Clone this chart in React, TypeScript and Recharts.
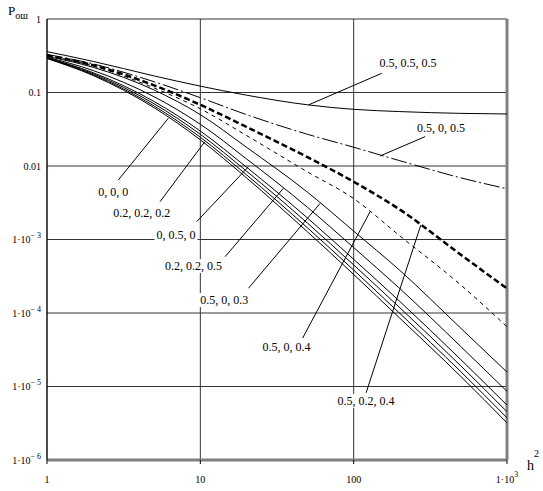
import React from "react";
import {
  LineChart,
  Line,
  XAxis,
  YAxis,
  CartesianGrid,
  ReferenceLine,
  ReferenceDot,
} from "recharts";

// h^2 sample points (log axis)
const hSquared = [1, 2, 5, 10, 20, 50, 100, 200, 500, 1000];

// error probability curves
const p555 = [0.36, 0.265, 0.168, 0.122, 0.092, 0.068, 0.059, 0.055, 0.052, 0.051];
const p505 = [0.33, 0.245, 0.14, 0.085, 0.05, 0.027, 0.018, 0.0118, 0.0069, 0.0049];
const p524 = [0.32, 0.235, 0.125, 0.068, 0.034, 0.0132, 0.0061, 0.00255, 0.00062, 0.000215];
const p504 = [0.32, 0.23, 0.115, 0.06, 0.026, 0.0083, 0.0036, 0.00112, 0.00024, 0.000065];
const p503 = [0.31, 0.22, 0.108, 0.05, 0.018, 0.0044, 0.0013, 0.00038, 0.000062, 0.0000157];
const p225 = [0.302, 0.199, 0.0874, 0.037, 0.0125, 0.00274, 0.000777, 0.000215, 0.0000349, 0.00000858];
const pMid = [0.297, 0.186, 0.0753, 0.0299, 0.00965, 0.00196, 0.000538, 0.0001435, 0.0000232, 0.00000558];
const p050 = [0.294, 0.18, 0.0701, 0.027, 0.00852, 0.00167, 0.000451, 0.000118, 0.0000191, 0.00000454];
const p222 = [0.292, 0.1744, 0.0655, 0.0246, 0.0076, 0.00144, 0.000384, 0.0000987, 0.0000159, 0.00000375];
const p000 = [0.29, 0.17, 0.062, 0.0227, 0.0069, 0.00127, 0.000335, 0.000085, 0.0000137, 0.0000032];

const xTicks = [1, 10, 100, 1000];
const yTicks = [1e-6, 1e-5, 1e-4, 1e-3, 0.01, 0.1, 1];

// curve annotations (data coordinates)
const labelText = [
  "0.5, 0.5, 0.5",
  "0.5, 0, 0.5",
  "0, 0, 0",
  "0.2, 0.2, 0.2",
  "0, 0.5, 0",
  "0.2, 0.2, 0.5",
  "0.5, 0, 0.3",
  "0.5, 0, 0.4",
  "0.5, 0.2, 0.4",
];
const labelX = [226, 371.5, 2.7, 4.15, 6.94, 9.03, 14.3, 36.5, 120.5];
const labelY = [0.254, 0.0334, 0.00443, 0.0023, 0.00115, 0.000436, 0.00015, 0.000034, 0.00000635];
const leaderFromX = [152.5, 292.3, 2.92, 5.46, 9.47, 14.5, 20.6, 46.5, 120.5];
const leaderFromY = [0.1825, 0.0251, 0.00645, 0.00327, 0.00175, 0.000583, 0.000217, 0.0000457, 0.0000082];
const leaderToX = [50.6, 148.6, 6.18, 10.7, 20.6, 34.8, 60.4, 128, 274];
const leaderToY = [0.0676, 0.01368, 0.0446, 0.0214, 0.0098, 0.00497, 0.0031, 0.00239, 0.00157];

const data = hSquared.map((h, i) => ({
  h,
  p555: p555[i],
  p505: p505[i],
  p524: p524[i],
  p504: p504[i],
  p503: p503[i],
  p225: p225[i],
  pMid: pMid[i],
  p050: p050[i],
  p222: p222[i],
  p000: p000[i],
}));

const SERIF = '"Liberation Serif", "Times New Roman", serif';

const charWidth = (c: string) => (c === "." || c === "," || c === " " ? 0.25 : 0.5);
const textWidth = (s: string, fs: number) =>
  s.split("").reduce((w, c) => w + charWidth(c) * fs, 0);

const YTick = (props: any) => {
  const { x, y, payload } = props;
  const v = payload.value;
  const exp = Math.round(Math.log10(v));
  if (exp >= -2) {
    return (
      <text x={x} y={y + 3.5} textAnchor="end" fontFamily={SERIF} fontSize={10} fill="#000">
        {String(v)}
      </text>
    );
  }
  return (
    <text x={x} y={y + 3.5} textAnchor="end" fontFamily={SERIF} fontSize={10} fill="#000">
      1·10
      <tspan dy={-5} fontSize={8}>
        {"\u2212 " + -exp}
      </tspan>
    </text>
  );
};

const XTick = (props: any) => {
  const { x, y, payload } = props;
  const v = payload.value;
  if (v < 1000) {
    return (
      <text x={x} y={y + 17} textAnchor="middle" fontFamily={SERIF} fontSize={10} fill="#000">
        {String(v)}
      </text>
    );
  }
  return (
    <text x={x} y={y + 17} textAnchor="middle" fontFamily={SERIF} fontSize={10} fill="#000">
      1·10
      <tspan dy={-6} fontSize={8}>
        3
      </tspan>
    </text>
  );
};

const YTitle = (props: any) => {
  const { viewBox } = props;
  return (
    <text x={viewBox.x + 8} y={viewBox.y - 4} fontFamily={SERIF} fontSize={13} fill="#000">
      P
      <tspan dy={3.5} fontSize={10}>
        ош
      </tspan>
    </text>
  );
};

const XTitle = (props: any) => {
  const { viewBox } = props;
  return (
    <text x={viewBox.x + viewBox.width + 20} y={viewBox.y + 10} fontFamily={SERIF} fontSize={14} fill="#000">
      h
      <tspan dy={-13} fontSize={10}>
        2
      </tspan>
    </text>
  );
};

const makeLabel = (text: string) => (props: any) => {
  const { cx, cy } = props;
  const w = textWidth(text, 12);
  return (
    <g>
      <rect x={cx - w / 2 - 2} y={cy - 7} width={w + 4} height={14} fill="#fff" />
      <text x={cx} y={cy + 4} textAnchor="middle" fontFamily={SERIF} fontSize={12} fill="#000">
        {text}
      </text>
    </g>
  );
};

export default function App() {
  return (
    <div style={{ position: "absolute", top: 0, left: 0, width: 543, height: 491 }}>
      <LineChart
        width={543}
        height={491}
        data={data}
        margin={{ top: 19, right: 36, left: 0, bottom: 0 }}
      >
        <CartesianGrid stroke="#333" strokeWidth={1} />
        <XAxis
          dataKey="h"
          type="number"
          scale="log"
          domain={[1, 1000]}
          ticks={xTicks}
          allowDataOverflow
          height={31}
          axisLine={{ stroke: "#808080", strokeWidth: 3 }}
          tickLine={{ stroke: "#000" }}
          tickSize={4}
          tickMargin={2}
          tick={<XTick />}
          label={<XTitle />}
        />
        <YAxis
          type="number"
          scale="log"
          domain={[1e-6, 1]}
          ticks={yTicks}
          allowDataOverflow
          width={47}
          axisLine={{ stroke: "#000" }}
          tickLine={false}
          tickSize={0}
          tickMargin={6}
          tick={<YTick />}
          label={<YTitle />}
        />
        <ReferenceLine x={1000} stroke="#808080" strokeWidth={3} />
        <Line type="monotone" dataKey="p555" stroke="#000" strokeWidth={1} dot={false} isAnimationActive={false} />
        <Line type="monotone" dataKey="p505" stroke="#000" strokeWidth={1} strokeDasharray="16 3 2 3" dot={false} isAnimationActive={false} />
        <Line type="monotone" dataKey="p524" stroke="#000" strokeWidth={2.5} strokeDasharray="6 3" dot={false} isAnimationActive={false} />
        <Line type="monotone" dataKey="p504" stroke="#000" strokeWidth={1} strokeDasharray="4 4" dot={false} isAnimationActive={false} />
        <Line type="monotone" dataKey="p503" stroke="#000" strokeWidth={1} dot={false} isAnimationActive={false} />
        <Line type="monotone" dataKey="p225" stroke="#000" strokeWidth={1} dot={false} isAnimationActive={false} />
        <Line type="monotone" dataKey="pMid" stroke="#000" strokeWidth={1} dot={false} isAnimationActive={false} />
        <Line type="monotone" dataKey="p050" stroke="#000" strokeWidth={1} dot={false} isAnimationActive={false} />
        <Line type="monotone" dataKey="p222" stroke="#000" strokeWidth={1} dot={false} isAnimationActive={false} />
        <Line type="monotone" dataKey="p000" stroke="#000" strokeWidth={1} dot={false} isAnimationActive={false} />
        {labelText.map((t, i) => (
          <ReferenceLine
            key={"leader-" + i}
            segment={[
              { x: leaderFromX[i], y: leaderFromY[i] },
              { x: leaderToX[i], y: leaderToY[i] },
            ]}
            stroke="#000"
            strokeWidth={1}
          />
        ))}
        {labelText.map((t, i) => (
          <ReferenceDot
            key={"label-" + i}
            x={labelX[i]}
            y={labelY[i]}
            r={1}
            shape={makeLabel(t)}
          />
        ))}
      </LineChart>
    </div>
  );
}
